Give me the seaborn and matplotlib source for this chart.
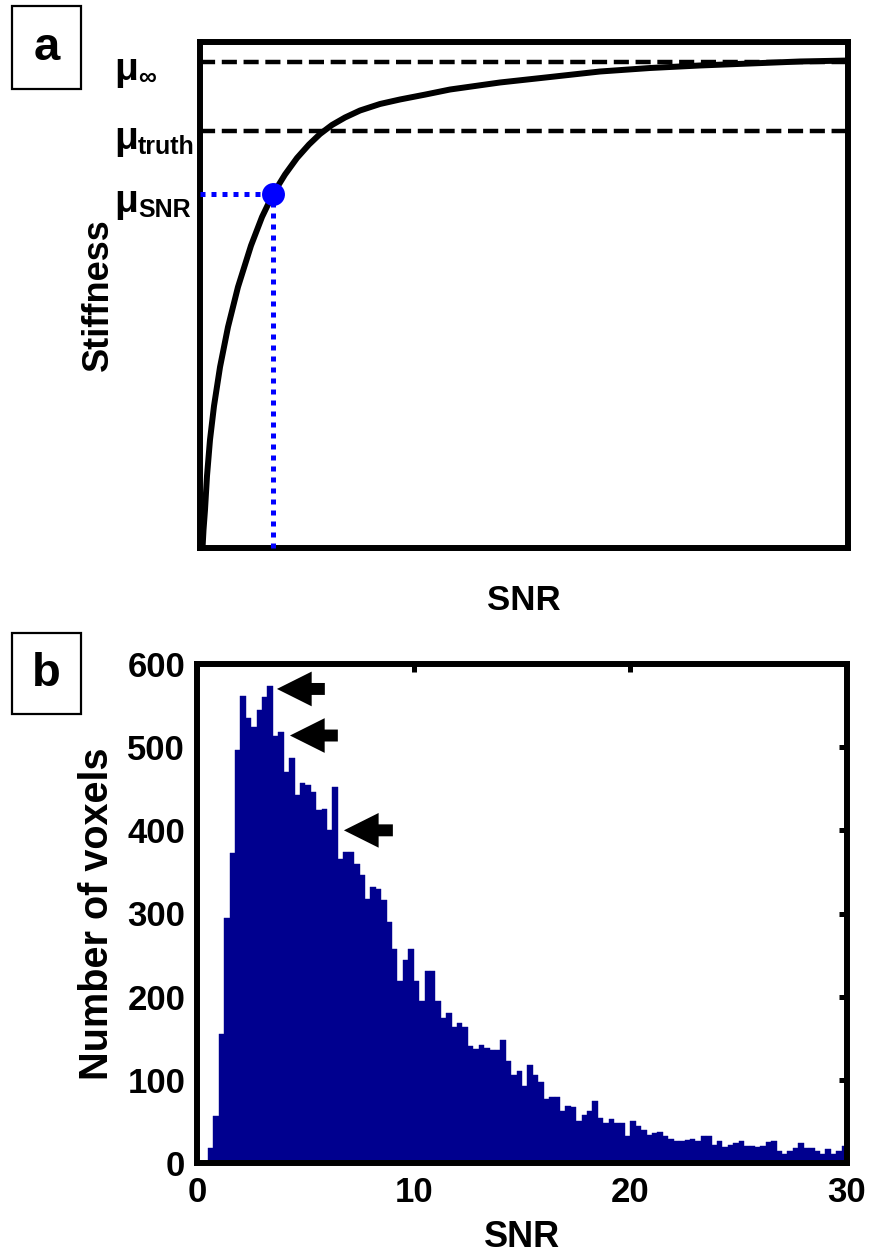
import numpy as np
import pandas as pd
import matplotlib
matplotlib.use("Agg")
import matplotlib.pyplot as plt
import seaborn as sns
from matplotlib.patches import Rectangle

# ---------------- Panel a data (normalised units) ----------------
curve_snr = [0.0039, 0.0054, 0.0077, 0.0108, 0.0154, 0.0216, 0.0309, 0.0432, 0.0586,
             0.0787, 0.0957, 0.1127, 0.1312, 0.1497, 0.1682, 0.1852, 0.2037, 0.2238,
             0.2469, 0.2778, 0.3086, 0.3472, 0.3858, 0.4630, 0.5401, 0.6173, 0.6944,
             0.7716, 0.8488, 0.9259, 1.0]
curve_stiffness = [0.0, 0.0356, 0.0751, 0.1423, 0.2134, 0.2806, 0.3577, 0.4368, 0.5158,
                   0.5976, 0.6542, 0.6996, 0.7381, 0.7708, 0.7974, 0.8182, 0.8360, 0.8508,
                   0.8646, 0.8775, 0.8864, 0.8960, 0.9061, 0.9200, 0.9308, 0.9417, 0.9486,
                   0.9536, 0.9575, 0.9615, 0.9634]
mu_inf = 0.9605
mu_truth = 0.824
mu_snr = 0.6996
snr_point = 0.1127

# ---------------- Panel b data ----------------
bin_width = 0.25
hist_start = 0.5
counts = [18, 57, 155, 295, 373, 496, 562, 535, 524, 545, 560, 573, 513, 518, 470, 487,
          443, 457, 454, 446, 424, 426, 400, 452, 365, 374, 374, 359, 346, 318, 332, 329,
          316, 290, 257, 219, 244, 257, 219, 195, 231, 231, 195, 174, 180, 164, 168, 164,
          141, 137, 142, 138, 136, 136, 148, 123, 106, 111, 92, 118, 106, 97, 77, 79,
          79, 62, 69, 67, 51, 58, 63, 74, 54, 48, 53, 48, 48, 32, 50, 45,
          40, 34, 36, 37, 33, 29, 26, 27, 28, 29, 27, 33, 33, 22, 26, 19,
          22, 24, 26, 20, 20, 19, 21, 25, 26, 15, 11, 15, 18, 24, 18, 18,
          15, 11, 17, 11, 15, 20]
hist_xticks = [0, 10, 20, 30]
hist_yticks = [0, 100, 200, 300, 400, 500, 600]
arrow_tips = [(3.69, 570), (4.29, 514), (6.78, 400)]
arrow_tails = [(5.9, 570), (6.5, 514), (9.04, 400)]

sns.set_style("white")
plt.rcParams['font.family'] = ['Liberation Sans', 'DejaVu Sans']
plt.rcParams['font.weight'] = 'bold'
plt.rcParams['axes.labelweight'] = 'bold'
for key in ('text.color', 'axes.labelcolor', 'xtick.color', 'ytick.color',
            'axes.edgecolor'):
    plt.rcParams[key] = 'black'

W, H = 871, 1256
fig = plt.figure(figsize=(W / 100, H / 100), dpi=100)

def fx(px):
    return px / W

def fy(py):
    return 1 - py / H

ax_a = fig.add_axes([fx(200), fy(548), (848 - 200) / W, (548 - 42) / H])
ax_b = fig.add_axes([fx(197), fy(1163), (847 - 197) / W, (1163 - 664) / H])

# ---------------- Panel a ----------------
curve_df = pd.DataFrame({'snr': curve_snr, 'stiffness': curve_stiffness})
sns.lineplot(data=curve_df, x='snr', y='stiffness', ax=ax_a, color='black', lw=4.3,
             sort=False, estimator=None, zorder=3)
for m in (mu_inf, mu_truth):
    ax_a.axhline(m, color='black', lw=3.2, dashes=(3.4, 1.5), zorder=2)
ax_a.plot([0, snr_point], [mu_snr, mu_snr], color='#0000ff', lw=3.6,
          linestyle=(0, (1, 1.2)), zorder=4)
ax_a.plot([snr_point, snr_point], [0, mu_snr], color='#0000ff', lw=3.6,
          linestyle=(0, (1, 1.2)), zorder=4, clip_on=False)
ax_a.plot([snr_point], [mu_snr], 'o', color='#0000ff', ms=16.5, mec='none', zorder=5)
ax_a.set_xlim(0, 1)
ax_a.set_ylim(0, 1)
ax_a.set_xticks([])
ax_a.set_yticks([])
ax_a.set_xlabel('SNR', fontsize=25, fontweight='bold')
ax_a.set_ylabel('Stiffness', fontsize=26, fontweight='bold')
ax_a.xaxis.set_label_coords(0.5, -0.071)
ax_a.yaxis.set_label_coords(-0.130, 0.5)

# mu labels
mu_labels = [(mu_inf, '\u221e'), (mu_truth, 'truth'), (mu_snr, 'SNR')]
for val, sub in mu_labels:
    t = ax_a.annotate('\u03bc', xy=(0, val), xycoords=('axes fraction', 'data'),
                      xytext=(-86, -8), textcoords='offset pixels',
                      fontsize=28, fontweight='bold', ha='left', va='center',
                      annotation_clip=False)
    ax_a.annotate(sub, xy=(1, 0), xycoords=t, xytext=(0, 3), textcoords='offset pixels',
                  fontsize=18, fontweight='bold', ha='left', va='baseline')

# ---------------- Panel b ----------------
centers = hist_start + bin_width * (np.arange(len(counts)) + 0.5)
hist_df = pd.DataFrame({'snr': centers, 'count': counts})
navy = '#00008f'
sns.histplot(data=hist_df, x='snr', weights='count', binwidth=bin_width, binrange=(0, 30),
             ax=ax_b, color=navy, alpha=1, edgecolor=navy, linewidth=0.3)
ax_b.set_xlim(0, 30)
ax_b.set_ylim(0, 600)
ax_b.set_xticks(hist_xticks)
ax_b.set_yticks(hist_yticks)
ax_b.tick_params(axis='both', direction='in', top=True, right=True, length=6,
                 width=3.6, labelsize=25, color='black')
ax_b.tick_params(axis='y', pad=8.5)
ax_b.tick_params(axis='x', pad=9)
ax_b.set_xlabel('SNR', fontsize=26, fontweight='bold')
ax_b.set_ylabel('Number of voxels', fontsize=28.5, fontweight='bold')
ax_b.xaxis.set_label_coords(0.5, -0.114)
ax_b.yaxis.set_label_coords(-0.125, 0.5)
for lab in ax_b.get_xticklabels() + ax_b.get_yticklabels():
    lab.set_fontweight('bold')

for tip, tail in zip(arrow_tips, arrow_tails):
    ax_b.annotate('', xy=tip, xytext=tail,
                  arrowprops=dict(arrowstyle='simple,head_length=2.5,head_width=2.5,tail_width=0.86',
                                  fc='black', ec='none', shrinkA=0, shrinkB=0,
                                  mutation_scale=10))

for ax in (ax_a, ax_b):
    for sp in ax.spines.values():
        sp.set_visible(True)
        sp.set_linewidth(4.3)
        sp.set_color('black')

# panel letters
for (x0, y0, x1, y1, letter, cy) in [(12, 6, 81, 89, 'a', 48), (12, 633, 81, 714, 'b', 674)]:
    fig.add_artist(Rectangle((fx(x0), fy(y1)), (x1 - x0) / W, (y1 - y0) / H,
                             transform=fig.transFigure, fill=False, lw=1.6, ec='black'))
    fig.text(fx((x0 + x1) / 2), fy(cy), letter, fontsize=34, fontweight='bold',
             ha='center', va='center')

fig.savefig('out.png', dpi=100)
